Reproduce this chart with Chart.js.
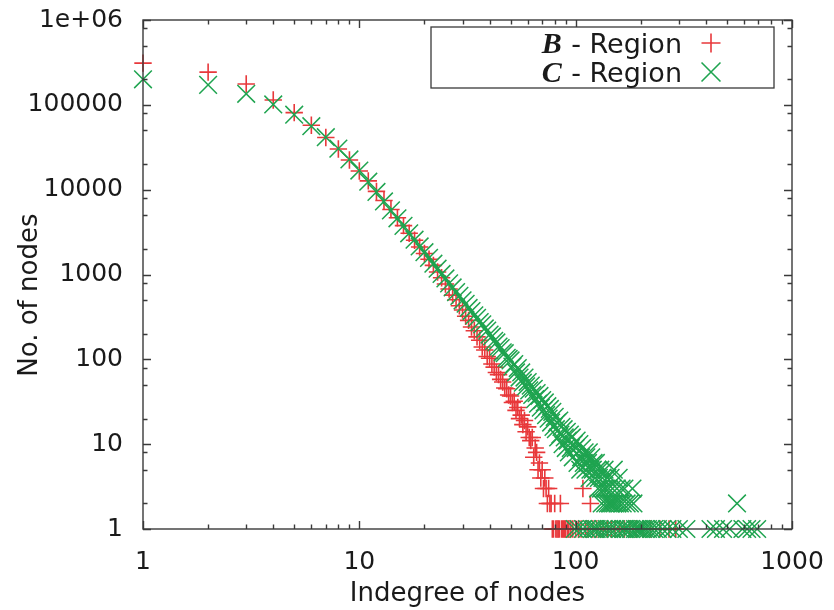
<!DOCTYPE html>
<html>
<head>
<meta charset="utf-8">
<title>Indegree distribution</title>
<script src="https://cdn.jsdelivr.net/npm/chart.js@4.4.1/dist/chart.umd.min.js"></script>
<style>
  html, body { margin: 0; padding: 0; background: #fff; }
  #wrap { width: 834px; height: 610px; }
</style>
</head>
<body>
<div id="wrap"><canvas id="chart" width="834" height="610"></canvas></div>
<script>
// Indegree -> number of nodes, B region
const bDegrees = [
  1, 2, 3, 4, 5, 6, 7, 8, 9, 10, 11, 12, 13, 14, 15, 16, 17, 18, 19, 20,
  21, 22, 23, 24, 25, 26, 27, 28, 29, 30, 31, 32, 33, 34, 35, 36, 37, 38, 39, 40,
  41, 42, 43, 44, 45, 46, 47, 48, 49, 50, 51, 52, 53, 54, 55, 56, 57, 58, 59, 60,
  61, 62, 63, 64, 65, 66, 67, 68, 69, 70, 71, 72, 73, 74, 75, 76, 77, 78, 79, 80,
  81, 82, 83, 84, 85, 86, 87, 88, 89, 90, 92, 93, 95, 97, 100, 103, 106, 108, 111, 114,
  117, 120, 125, 130, 134, 140, 146, 152, 160, 168, 178, 190, 205, 222, 245, 270, 290
];
const bCounts = [
  310000, 243000, 176000, 114000, 81000, 57500, 41200, 30100, 22400, 16600,
  12700, 9550, 7450, 5830, 4670, 3770, 3060, 2530, 2110, 1770,
  1510, 1280, 1070, 915, 772, 676, 571, 503, 428, 381,
  322, 288, 241, 217, 184, 168, 140, 129, 108, 103,
  88, 81, 70, 66, 58, 54, 46, 45, 38, 37,
  31, 32, 25, 27, 20, 22, 17, 19, 14, 16,
  12, 11, 12, 7, 9, 8, 5, 6, 4, 5,
  3, 4, 3, 2, 3, 2, 2, 1, 1, 2,
  1, 1, 1, 1, 2, 1, 1, 1, 1, 1, 1, 1, 1, 1, 1, 1, 1, 3, 1, 1,
  2, 1, 1, 1, 1, 1, 1, 1, 1, 1, 1, 1, 1, 1, 1, 1, 1
];

// Indegree -> number of nodes, C region
const cDegrees = [
  1, 2, 3, 4, 5, 6, 7, 8, 9, 10, 11, 12, 13, 14, 15, 16, 17, 18, 19, 20,
  21, 22, 23, 24, 25, 26, 27, 28, 29, 30, 31, 32, 33, 34, 35, 36, 37, 38, 39, 40,
  41, 42, 43, 44, 45, 46, 47, 48, 49, 50, 51, 52, 53, 54, 55, 56, 57, 58, 59, 60,
  61, 62, 63, 64, 65, 66, 67, 68, 69, 70, 71, 72, 73, 74, 75, 76, 77, 78, 79, 80,
  81, 82, 83, 84, 85, 86, 87, 88, 89, 90, 91, 92, 93, 94, 95, 96, 97, 98, 99, 100,
  101, 102, 103, 104, 105, 106, 107, 108, 109, 110, 111, 112, 113, 114, 115, 116, 117, 118, 119, 120,
  121, 122, 123, 124, 125, 126, 127, 128, 129, 130, 131, 132, 133, 134, 135, 136, 137, 138, 139, 140,
  141, 142, 143, 144, 145, 146, 147, 148, 149, 150, 152, 153, 155, 156, 158, 160, 161, 163, 165, 167,
  168, 170, 172, 175, 178, 180, 183, 185, 188, 192, 196, 200, 205, 210, 216, 223, 231, 240, 252, 265,
  280, 300, 325, 420, 445, 480, 515, 557, 590, 620, 650, 690
];
const cCounts = [
  200000, 172000, 135000, 101000, 76500, 56000, 41500, 30500, 22700, 16800,
  12400, 9400, 7260, 5700, 4600, 3740, 3060, 2570, 2140, 1830,
  1570, 1340, 1170, 1015, 898, 785, 703, 619, 560, 495,
  452, 403, 371, 330, 308, 275, 258, 231, 218, 196,
  186, 165, 158, 141, 136, 121, 118, 104, 101, 97,
  82, 88, 70, 79, 61, 70, 53, 61, 48, 54,
  43, 49, 38, 45, 34, 40, 30, 37, 27, 33,
  25, 31, 22, 28, 20, 26, 18, 24, 16, 21,
  15, 18, 12, 19, 13, 16, 10, 15, 12, 9,
  14, 11, 8, 13, 9, 12, 7, 10, 1, 9,
  11, 6, 1, 10, 5, 7, 9, 1, 6, 8,
  5, 7, 1, 6, 8, 4, 5, 7, 1, 5,
  6, 1, 4, 6, 1, 5, 3, 4, 1, 5,
  3, 2, 4, 1, 3, 5, 2, 3, 1, 4,
  2, 3, 1, 2, 4, 2, 1, 3, 2, 5,
  2, 1, 3, 2, 4, 2, 1, 3, 2, 1,
  3, 1, 2, 1, 2, 1, 3, 2, 1, 1,
  1, 1, 1, 1, 1, 1, 1, 1, 1, 1,
  1, 1, 1, 1, 1, 1, 1, 2, 1, 1, 1, 1
];

const seriesLabels = ['B - Region', 'C - Region'];
const xTickValues = [1, 10, 100, 1000];
const xTickLabels = ['1', '10', '100', '1000'];
const yTickValues = [1, 10, 100, 1000, 10000, 100000, 1000000];
const yTickLabels = ['1', '10', '100', '1000', '10000', '100000', '1e+06'];
const xMinorSteps = [2, 3, 4, 5, 6, 7, 8, 9];
const yMinorSteps = [2, 5, 8];

const RED = '#e8383b';
const GREEN = '#1fa450';
const INK = '#1a1a1a';
const AXIS = '#3a3a3a';

Chart.defaults.font.family = "'DejaVu Sans', sans-serif";
Chart.defaults.color = INK;

function toPoints(xs, ys) {
  return xs.map((d, i) => ({ x: d, y: ys[i] }));
}

// box around the plot with gnuplot-style inward ticks on all four sides
const frameTicks = {
  id: 'frameTicks',
  afterDatasetsDraw(chart) {
    const { ctx, chartArea: a, scales: { x, y } } = chart;
    const major = 8, minor = 4.5;
    ctx.save();
    ctx.strokeStyle = AXIS;
    ctx.lineWidth = 1.4;
    ctx.beginPath();
    const vtick = (px, len) => {
      ctx.moveTo(px, a.bottom); ctx.lineTo(px, a.bottom - len);
      ctx.moveTo(px, a.top); ctx.lineTo(px, a.top + len);
    };
    const htick = (py, len) => {
      ctx.moveTo(a.left, py); ctx.lineTo(a.left + len, py);
      ctx.moveTo(a.right, py); ctx.lineTo(a.right - len, py);
    };
    xTickValues.forEach((v, i) => {
      vtick(Math.round(x.getPixelForValue(v)) + 0.5, major);
      if (i < xTickValues.length - 1) {
        xMinorSteps.forEach((m) => vtick(Math.round(x.getPixelForValue(v * m)) + 0.5, minor));
      }
    });
    yTickValues.forEach((v, i) => {
      htick(Math.round(y.getPixelForValue(v)) + 0.5, major);
      if (i < yTickValues.length - 1) {
        yMinorSteps.forEach((m) => htick(Math.round(y.getPixelForValue(v * m)) + 0.5, minor));
      }
    });
    ctx.stroke();
    ctx.strokeRect(a.left, a.top, a.right - a.left, a.bottom - a.top);
    ctx.restore();
  }
};

// legend: italic serif region letter, plain rest, sample marker on the right
const regionLegend = {
  id: 'regionLegend',
  afterDraw(chart) {
    const { ctx, chartArea: a } = chart;
    const boxR = a.right - 18, boxL = boxR - 343, boxT = a.top + 7, boxB = boxT + 61;
    ctx.save();
    ctx.fillStyle = '#fff';
    ctx.fillRect(boxL, boxT, boxR - boxL, boxB - boxT);
    ctx.strokeStyle = AXIS;
    ctx.lineWidth = 1.3;
    ctx.strokeRect(boxL, boxT, boxR - boxL, boxB - boxT);

    const textRight = boxR - 92;
    const markX = boxR - 63;
    chart.data.datasets.forEach((ds, i) => {
      const baseline = boxT + 26 + i * 29;
      const letter = ds.label.charAt(0);
      const rest = ds.label.slice(1);
      ctx.fillStyle = INK;
      ctx.textBaseline = 'alphabetic';
      ctx.textAlign = 'right';
      ctx.font = "27px 'DejaVu Sans'";
      ctx.fillText(rest, textRight, baseline);
      const restW = ctx.measureText(rest).width;
      ctx.font = "italic bold 30px 'Liberation Serif'";
      ctx.fillText(letter, textRight - restW - 1, baseline);

      ctx.strokeStyle = ds.borderColor;
      ctx.lineWidth = 1.6;
      Chart.helpers.drawPoint(ctx, {
        pointStyle: ds.pointStyle,
        radius: ds.pointStyle === 'cross' ? 9.5 : 13.4,
        rotation: 0,
        borderWidth: 1.6
      }, markX, baseline - 10);
    });
    ctx.restore();
  }
};

new Chart(document.getElementById('chart'), {
  type: 'scatter',
  data: {
    datasets: [
      {
        label: seriesLabels[0],
        data: toPoints(bDegrees, bCounts),
        pointStyle: 'cross',
        pointRadius: 8.7,
        borderColor: RED,
        backgroundColor: RED,
        pointBorderWidth: 1.6,
        clip: false,
        order: 1
      },
      {
        label: seriesLabels[1],
        data: toPoints(cDegrees, cCounts),
        pointStyle: 'crossRot',
        pointRadius: 12.5,
        borderColor: GREEN,
        backgroundColor: GREEN,
        pointBorderWidth: 1.5,
        clip: false,
        order: 0
      }
    ]
  },
  options: {
    responsive: false,
    animation: false,
    events: [],
    devicePixelRatio: 1,
    layout: { padding: { top: 20, right: 42, bottom: 0, left: 0 } },
    plugins: { legend: { display: false }, tooltip: { enabled: false } },
    scales: {
      x: {
        type: 'logarithmic',
        min: 1,
        max: 1000,
        grid: { display: false, drawTicks: false },
        border: { display: false },
        afterBuildTicks: (scale) => { scale.ticks = xTickValues.map((v) => ({ value: v })); },
        afterFit: (scale) => {
          scale.height = 81;
          scale.paddingLeft = 0;
          scale.paddingRight = 0;
        },
        ticks: {
          autoSkip: false,
          maxRotation: 0,
          padding: 18,
          font: { size: 25 },
          color: INK,
          callback: (value, index) => xTickLabels[index]
        },
        title: {
          display: true,
          text: 'Indegree of nodes',
          font: { size: 26 },
          color: INK,
          padding: { top: 0, bottom: 0 }
        }
      },
      y: {
        type: 'logarithmic',
        min: 1,
        max: 1000000,
        grid: { display: false, drawTicks: false },
        border: { display: false },
        afterBuildTicks: (scale) => { scale.ticks = yTickValues.map((v) => ({ value: v })); },
        afterFit: (scale) => {
          scale.width = 143;
          scale.paddingTop = 0;
          scale.paddingBottom = 0;
        },
        ticks: {
          autoSkip: false,
          padding: 20,
          font: { size: 25 },
          color: INK,
          callback: (value, index) => yTickLabels[index]
        },
        title: {
          display: true,
          text: 'No. of nodes     ',
          font: { size: 26 },
          color: INK,
          padding: { top: 15, bottom: 0 }
        }
      }
    }
  },
  plugins: [frameTicks, regionLegend]
});
</script>
</body>
</html>
